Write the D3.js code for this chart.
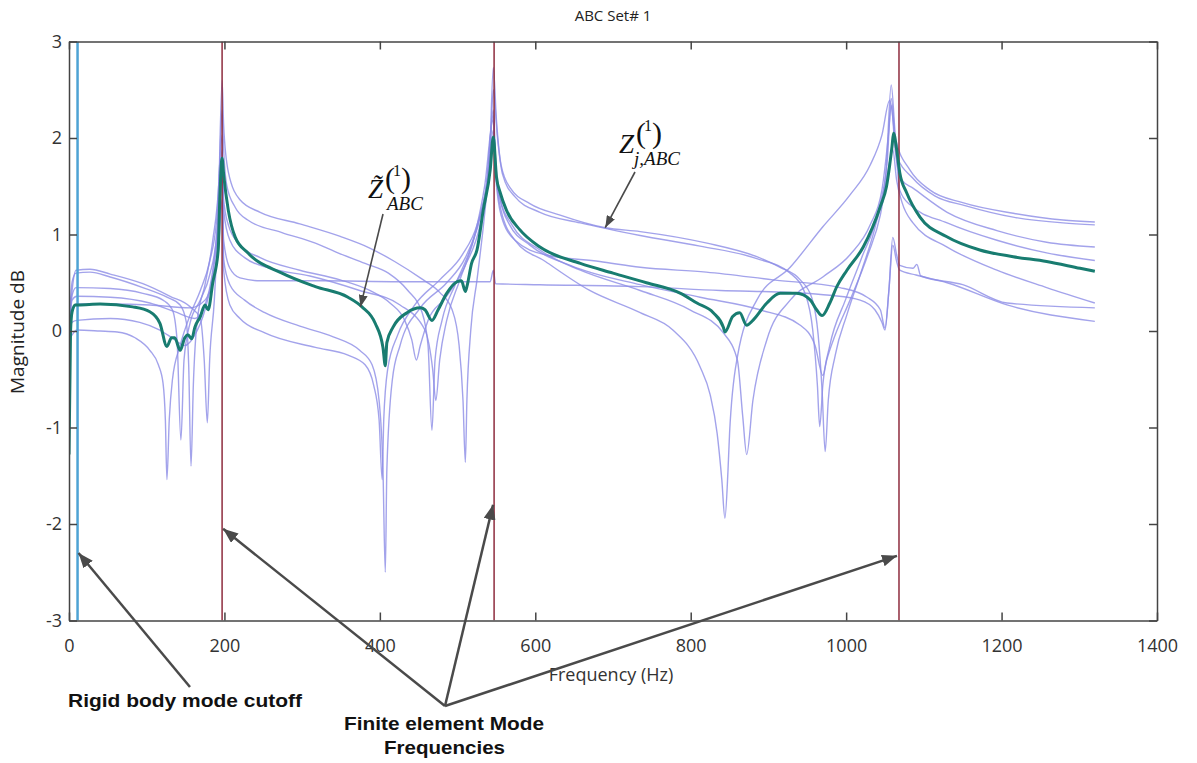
<!DOCTYPE html>
<html>
<head>
<meta charset="utf-8">
<script src="https://cdn.jsdelivr.net/npm/d3@7"></script>
<style>
body { margin: 0; background: #fff; }
svg { display: block; }
.tick text { font-family: "Open Sans", sans-serif; font-size: 18px; fill: #333; }
.axis path, .axis line { stroke: #444; stroke-width: 1.5; }
.member { fill: none; stroke: #8c8ce6; stroke-width: 1.4; stroke-opacity: 0.8; stroke-linejoin: round; }
.mean { fill: none; stroke: #187c70; stroke-width: 3; stroke-linejoin: round; }
.note { font-family: "Liberation Sans", Arial, sans-serif; font-weight: bold; font-size: 18px; fill: #111; }
.math { font-family: "Liberation Serif", "Times New Roman", serif; fill: #111; }
</style>
</head>
<body>
<svg id="chart" width="1197" height="763"></svg>
<script>
// axes
var freqTicks = [0, 200, 400, 600, 800, 1000, 1200, 1400];
var dbTicks = [-3, -2, -1, 0, 1, 2, 3];

// vertical markers (Hz)
var rigidCutoff = 11;
var modeFreqs = [197, 547, 1068];

// averaged impedance, [Hz, dB]
var meanCurve = [[0,-1.28],[2,0.0],[4,0.2],[8,0.27],[12,0.27],[40,0.28],[82,0.25],[104,0.20],[117,0.08],[126,-0.16],[132,-0.07],[136,-0.07],[143,-0.20],[149,-0.07],[153,-0.04],[158,-0.08],[162,0.04],[169,0.15],[175,0.27],[179,0.22],[185,0.50],[192,0.84],[194,1.36],[197,1.79],[199,1.62],[205,1.25],[214,0.97],[230,0.81],[274,0.60],[317,0.46],[359,0.35],[377,0.25],[394,0.08],[404,-0.17],[407,-0.36],[409,-0.12],[417,0.04],[435,0.19],[452,0.24],[458,0.22],[467,0.11],[475,0.22],[486,0.39],[499,0.51],[505,0.52],[510,0.41],[512,0.46],[518,0.70],[525,0.84],[533,1.25],[542,1.67],[546,2.01],[550,1.60],[555,1.43],[563,1.25],[580,1.05],[606,0.87],[658,0.70],[700,0.60],[743,0.50],[787,0.39],[808,0.29],[829,0.19],[842,0.04],[844,-0.01],[854,0.15],[863,0.19],[872,0.06],[880,0.11],[898,0.29],[915,0.39],[936,0.39],[954,0.32],[962,0.22],[969,0.16],[979,0.29],[988,0.46],[1001,0.63],[1022,0.87],[1044,1.29],[1052,1.50],[1059,1.91],[1061,2.05],[1065,1.88],[1069,1.64],[1078,1.43],[1095,1.18],[1129,0.98],[1172,0.84],[1215,0.77],[1258,0.72],[1301,0.65],[1320,0.62]];

// individual set members, [Hz, dB]
var member1 = [[0,0.01],[4,0.51],[9,0.60],[27,0.61],[53,0.56],[95,0.45],[126,0.35],[143,0.27],[151,0.09],[154,-0.35],[157,-1.40],[160,-0.56],[165,0.11],[175,0.48],[185,0.94],[193,1.56],[197,2.29],[199,1.88],[203,1.51],[214,1.28],[230,1.15],[274,1.02],[317,0.91],[346,0.81],[381,0.70],[411,0.60],[436,0.42],[454,0.20],[462,-0.15],[467,-1.03],[471,-0.30],[480,0.11],[497,0.48],[516,0.84],[531,1.25],[541,1.77],[546,2.73],[550,2.19],[556,1.72],[568,1.48],[593,1.32],[632,1.20],[690,1.07],[735,1.03],[821,0.91],[885,0.77],[915,0.66],[941,0.53],[956,0.34],[964,-0.04],[969,-0.61],[973,-1.25],[977,-0.72],[986,-0.25],[1001,0.17],[1020,0.63],[1038,1.10],[1051,1.62],[1058,2.55],[1064,1.98],[1082,1.67],[1108,1.46],[1150,1.33],[1215,1.22],[1279,1.15],[1320,1.13]];
var member2 = [[0,0.01],[4,0.42],[9,0.63],[27,0.64],[53,0.59],[95,0.49],[130,0.36],[156,0.25],[169,0.13],[174,-0.30],[178,-0.95],[181,-0.30],[187,0.32],[192,1.20],[197,2.60],[199,2.13],[205,1.65],[220,1.36],[246,1.23],[297,1.11],[349,0.98],[387,0.86],[419,0.72],[452,0.55],[477,0.40],[493,0.22],[502,-0.15],[507,-0.72],[510,-1.36],[512,-0.72],[517,0.01],[525,0.53],[534,1.15],[542,1.88],[546,2.50],[551,2.03],[558,1.62],[574,1.39],[606,1.23],[658,1.12],[735,0.99],[812,0.88],[885,0.75],[928,0.60],[948,0.37],[957,0.01],[963,-0.56],[966,-0.99],[970,-0.56],[979,-0.15],[999,0.32],[1020,0.76],[1041,1.23],[1053,1.77],[1058,2.41],[1065,1.82],[1085,1.59],[1114,1.40],[1153,1.30],[1215,1.18],[1279,1.12],[1320,1.10]];
var member3 = [[0,0.01],[4,0.37],[9,0.45],[53,0.44],[95,0.39],[121,0.32],[133,0.22],[139,-0.09],[144,-1.13],[148,-0.30],[156,0.09],[169,0.32],[181,0.58],[190,0.99],[197,1.88],[199,0.74],[207,0.48],[226,0.32],[252,0.19],[297,0.05],[340,-0.06],[374,-0.20],[390,-0.35],[399,-0.72],[404,-1.44],[407,-2.50],[409,-1.44],[416,-0.51],[426,-0.15],[452,0.24],[486,0.50],[510,0.76],[526,1.10],[538,1.56],[546,2.29],[549,1.77],[555,1.36],[570,1.10],[606,0.84],[658,0.63],[735,0.42],[799,0.22],[842,-0.02],[860,-0.30],[867,-0.89],[872,-1.28],[880,-0.72],[898,-0.09],[928,0.32],[970,0.56],[1005,0.79],[1031,1.10],[1046,1.46],[1055,2.08],[1058,2.34],[1063,1.88],[1072,1.56],[1086,1.48],[1130,1.23],[1194,1.04],[1258,0.92],[1320,0.87]];
var member4 = [[0,-0.09],[4,-0.04],[10,0.01],[40,0.00],[62,-0.01],[85,-0.07],[104,-0.20],[115,-0.35],[121,-0.54],[124,-0.92],[126,-1.54],[129,-0.92],[133,-0.51],[143,-0.15],[156,0.17],[169,0.42],[181,0.72],[190,1.15],[197,2.03],[199,0.63],[207,0.27],[220,0.13],[252,-0.02],[317,-0.17],[359,-0.25],[381,-0.35],[392,-0.56],[399,-0.92],[403,-1.54],[405,-0.92],[410,-0.40],[423,-0.04],[445,0.27],[477,0.53],[506,0.79],[525,1.10],[537,1.51],[546,2.24],[549,1.67],[556,1.25],[574,0.94],[613,0.72],[670,0.42],[735,0.19],[777,0.01],[812,-0.37],[825,-0.66],[834,-1.06],[840,-1.54],[844,-1.94],[848,-1.44],[850,-1.06],[860,-0.27],[885,0.32],[928,0.66],[970,1.08],[1005,1.41],[1031,1.72],[1046,2.03],[1056,2.39],[1063,1.98],[1069,1.46],[1082,1.31],[1130,1.12],[1194,0.94],[1258,0.81],[1320,0.73]];
var member5 = [[0,0.01],[4,0.09],[10,0.11],[53,0.13],[91,0.09],[117,0.01],[136,-0.09],[149,-0.15],[162,-0.04],[175,0.22],[185,0.58],[193,1.15],[197,1.62],[199,1.36],[205,1.10],[220,0.89],[246,0.76],[297,0.63],[349,0.53],[387,0.42],[413,0.29],[432,0.11],[441,-0.09],[447,-0.30],[452,-0.15],[462,0.11],[484,0.34],[510,0.68],[529,1.10],[539,1.56],[546,2.08],[549,1.67],[555,1.36],[567,1.10],[593,0.89],[645,0.68],[735,0.48],[812,0.35],[889,0.22],[941,0.06],[960,-0.15],[970,-0.46],[975,-0.30],[986,-0.04],[1005,0.32],[1028,0.79],[1044,1.20],[1054,1.67],[1060,1.88],[1065,1.56],[1072,1.33],[1086,1.12],[1130,0.87],[1194,0.63],[1258,0.45],[1320,0.29]];
var member6 = [[0,0.01],[4,0.22],[10,0.28],[53,0.28],[104,0.27],[156,0.24],[175,0.32],[185,0.53],[193,0.94],[197,1.36],[199,0.94],[207,0.65],[220,0.55],[246,0.52],[323,0.52],[426,0.51],[516,0.51],[542,0.51],[546,0.63],[549,0.49],[606,0.48],[735,0.46],[838,0.42],[928,0.40],[979,0.37],[1018,0.32],[1037,0.22],[1046,0.09],[1050,0.01],[1055,0.42],[1060,0.97],[1065,0.79],[1069,0.68],[1086,0.65],[1091,0.69],[1096,0.57],[1150,0.48],[1207,0.29],[1320,0.24]];
var member7 = [[0,0.01],[4,0.32],[10,0.36],[53,0.35],[104,0.29],[136,0.20],[162,0.13],[175,0.27],[185,0.63],[193,1.25],[197,1.72],[199,1.25],[207,0.94],[226,0.76],[259,0.65],[310,0.57],[374,0.42],[426,0.27],[458,0.01],[468,-0.40],[472,-0.72],[477,-0.30],[486,0.11],[503,0.53],[522,0.99],[535,1.51],[546,2.19],[549,1.62],[556,1.20],[574,0.94],[613,0.79],[683,0.72],[735,0.66],[820,0.61],[906,0.53],[992,0.45],[1027,0.35],[1044,0.22],[1050,0.03],[1055,0.42],[1060,0.89],[1065,0.72],[1069,0.63],[1090,0.58],[1130,0.50],[1207,0.27],[1320,0.10]];

var members = [member1, member2, member3, member4, member5, member6, member7];

var svg = d3.select("#chart");
var x = d3.scaleLinear().domain([0, 1400]).range([69, 1157]);
var y = d3.scaleLinear().domain([-3, 3]).range([620.5, 41.5]);

var defs = svg.append("defs");
defs.append("clipPath").attr("id", "plot-clip")
  .append("rect").attr("x", 69).attr("y", 41.5).attr("width", 1088).attr("height", 579);
function addMarker(id, w, h){
  defs.append("marker")
    .attr("id", id)
    .attr("markerUnits", "userSpaceOnUse")
    .attr("viewBox", "0 0 " + w + " " + h)
    .attr("markerWidth", w).attr("markerHeight", h)
    .attr("refX", w).attr("refY", h / 2)
    .attr("orient", "auto")
    .append("path")
    .attr("d", "M0,0 L" + w + "," + (h / 2) + " L0," + h + " z")
    .style("fill", "#4a4a4a");
}
addMarker("arrow-big", 15, 12);
addMarker("arrow-small", 12, 9);

var line = d3.line()
  .curve(d3.curveMonotoneX)
  .x(function(d){ return x(d[0]); })
  .y(function(d){ return y(d[1]); });

var plot = svg.append("g").attr("clip-path", "url(#plot-clip)");

plot.selectAll("path.member")
  .data(members)
  .enter().append("path")
  .attr("class", "member")
  .attr("d", line);

// mode lines
plot.selectAll("line.mode")
  .data(modeFreqs)
  .enter().append("line")
  .attr("class", "mode")
  .attr("x1", function(d){ return x(d); })
  .attr("x2", function(d){ return x(d); })
  .attr("y1", y(3)).attr("y2", y(-3))
  .style("stroke", "#8e2c3e")
  .style("stroke-width", 1.5);

plot.append("line")
  .attr("x1", x(rigidCutoff)).attr("x2", x(rigidCutoff))
  .attr("y1", y(3)).attr("y2", y(-3))
  .style("stroke", "#4ea3d4")
  .style("stroke-width", 2.5);

plot.append("path")
  .datum(meanCurve)
  .attr("class", "mean")
  .attr("d", line);

// axes, ticks pointing inward
var plain = function(d){ return String(d); };
svg.append("g").attr("class", "axis")
  .attr("transform", "translate(0," + y(-3) + ")")
  .call(d3.axisBottom(x).tickValues(freqTicks).tickFormat(plain).tickSize(-8).tickSizeOuter(0).tickPadding(19));
svg.append("g").attr("class", "axis")
  .attr("transform", "translate(0," + y(3) + ")")
  .call(d3.axisTop(x).tickValues(freqTicks).tickSize(-8).tickSizeOuter(0).tickFormat(""));
svg.append("g").attr("class", "axis")
  .attr("transform", "translate(" + x(0) + ",0)")
  .call(d3.axisLeft(y).tickValues(dbTicks).tickFormat(plain).tickSize(-8).tickSizeOuter(0).tickPadding(7));
svg.append("g").attr("class", "axis")
  .attr("transform", "translate(" + x(1400) + ",0)")
  .call(d3.axisRight(y).tickValues(dbTicks).tickSize(-8).tickSizeOuter(0).tickFormat(""));

svg.append("text")
  .attr("x", 613).attr("y", 21)
  .attr("text-anchor", "middle")
  .style("font-family", "'Open Sans', sans-serif").style("font-size", "15px").style("fill", "#222")
  .text("ABC Set# 1");

svg.append("text")
  .attr("x", 611).attr("y", 681)
  .attr("text-anchor", "middle")
  .style("font-family", "'Open Sans', sans-serif").style("font-size", "18px").style("fill", "#333")
  .text("Frequency (Hz)");

svg.append("text")
  .attr("transform", "translate(24,332) rotate(-90)")
  .attr("text-anchor", "middle")
  .style("font-family", "'Open Sans', sans-serif").style("font-size", "19px").style("fill", "#222")
  .text("Magnitude dB");

// annotations
svg.append("text").attr("class", "note")
  .attr("x", 68).attr("y", 707)
  .attr("textLength", 234).attr("lengthAdjust", "spacingAndGlyphs")
  .text("Rigid body mode cutoff");
svg.append("text").attr("class", "note")
  .attr("x", 344).attr("y", 730)
  .attr("textLength", 200).attr("lengthAdjust", "spacingAndGlyphs")
  .text("Finite element Mode");
svg.append("text").attr("class", "note")
  .attr("x", 384).attr("y", 754)
  .attr("textLength", 121).attr("lengthAdjust", "spacingAndGlyphs")
  .text("Frequencies");

var bigArrows = [
  {from: [190, 687], to: [x(rigidCutoff) + 1, y(-2.3)]},
  {from: [445, 706], to: [x(modeFreqs[0]) + 1, y(-2.05)]},
  {from: [445, 706], to: [x(modeFreqs[1]) - 1, y(-1.8)]},
  {from: [445, 706], to: [x(modeFreqs[2]) - 2, y(-2.33)]}
];
svg.selectAll("line.big-arrow")
  .data(bigArrows)
  .enter().append("line")
  .attr("class", "big-arrow")
  .attr("x1", function(d){ return d.from[0]; })
  .attr("y1", function(d){ return d.from[1]; })
  .attr("x2", function(d){ return d.to[0]; })
  .attr("y2", function(d){ return d.to[1]; })
  .style("stroke", "#4a4a4a")
  .style("stroke-width", 2.5)
  .attr("marker-end", "url(#arrow-big)");

// math labels, one text element each so the parts sit together
function mathLabel(zx, zy, tilde, sub){
  var t = svg.append("text").attr("class", "math");
  t.append("tspan").attr("x", zx).attr("y", zy)
    .style("font-style", "italic").style("font-size", "27px")
    .text(tilde ? "Z\u0303" : "Z");
  t.append("tspan").attr("x", zx + 17).attr("y", zy - 10)
    .style("font-size", "30px").text("(");
  t.append("tspan").attr("x", zx + 25).attr("y", zy - 22)
    .style("font-size", "16px").text("1");
  t.append("tspan").attr("x", zx + 33).attr("y", zy - 10)
    .style("font-size", "30px").text(")");
  t.append("tspan").attr("x", zx + (tilde ? 19 : 15)).attr("y", zy + 12)
    .style("font-style", "italic").style("font-size", "19px")
    .text(sub);
}
mathLabel(368, 198, true, "ABC");
mathLabel(619, 153, false, "j,ABC");

var smallArrows = [
  {from: [383, 214], to: [x(375), y(0.25)]},
  {from: [635, 172], to: [x(690), y(1.07)]}
];
svg.selectAll("line.small-arrow")
  .data(smallArrows)
  .enter().append("line")
  .attr("class", "small-arrow")
  .attr("x1", function(d){ return d.from[0]; })
  .attr("y1", function(d){ return d.from[1]; })
  .attr("x2", function(d){ return d.to[0]; })
  .attr("y2", function(d){ return d.to[1]; })
  .style("stroke", "#4a4a4a")
  .style("stroke-width", 1.6)
  .attr("marker-end", "url(#arrow-small)");
</script>
</body>
</html>
